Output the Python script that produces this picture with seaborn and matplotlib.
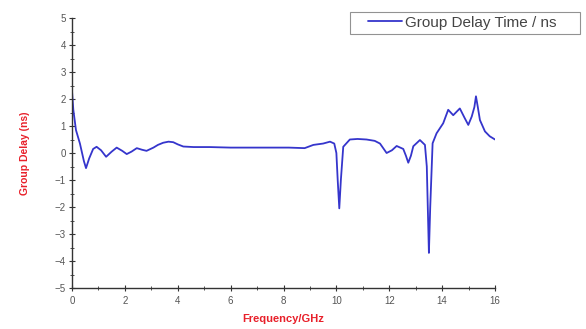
import matplotlib
matplotlib.use("Agg")
import matplotlib.pyplot as plt
import seaborn as sns
import pandas as pd
from matplotlib.ticker import MultipleLocator

freq = [0.0, 0.05, 0.15, 0.3, 0.45, 0.53, 0.65, 0.8, 0.93, 1.1, 1.29, 1.5, 1.69, 1.9, 2.07,
        2.25, 2.45, 2.65, 2.82, 3.08, 3.25, 3.45, 3.65, 3.83, 4.0, 4.21, 4.6, 5.2, 6.0, 6.8,
        7.5, 8.2, 8.8, 9.13, 9.5, 9.76, 9.92, 10.0, 10.05, 10.11, 10.17, 10.26, 10.51, 10.8,
        11.14, 11.45, 11.65, 11.9, 12.1, 12.28, 12.53, 12.63, 12.72, 12.82, 12.91, 13.16,
        13.35, 13.42, 13.47, 13.5, 13.55, 13.64, 13.79, 14.04, 14.23, 14.42, 14.67, 14.85,
        14.99, 15.12, 15.22, 15.28, 15.35, 15.43, 15.62, 15.8, 16.0]
delay = [2.3, 1.6, 0.85, 0.35, -0.3, -0.56, -0.2, 0.15, 0.23, 0.1, -0.14, 0.05, 0.2, 0.08, -0.04,
         0.05, 0.18, 0.12, 0.08, 0.2, 0.3, 0.38, 0.42, 0.4, 0.32, 0.24, 0.22, 0.22, 0.2, 0.2,
         0.2, 0.2, 0.18, 0.3, 0.35, 0.42, 0.35, 0.0, -1.0, -2.05, -1.0, 0.23, 0.5, 0.52,
         0.5, 0.45, 0.35, 0.0, 0.1, 0.26, 0.15, -0.1, -0.36, -0.1, 0.25, 0.48,
         0.3, -0.5, -2.5, -3.7, -2.0, 0.36, 0.73, 1.1, 1.6, 1.4, 1.65, 1.3,
         1.04, 1.35, 1.7, 2.1, 1.7, 1.22, 0.8, 0.62, 0.5]

df = pd.DataFrame({"Frequency": freq, "Delay": delay})

sns.set_style("white")
plt.rcParams["font.family"] = ["Liberation Sans", "DejaVu Sans"]

fig = plt.figure(figsize=(5.86, 3.29), dpi=100)
ax = fig.add_axes([72/586, 1-288/329, 423/586, 270/329])

sns.lineplot(data=df, x="Frequency", y="Delay", ax=ax, color="#3535cc", linewidth=1.3,
             label="Group Delay Time / ns", legend=False)

ax.set_xlim(0, 16)
ax.set_ylim(-5, 5)
ax.xaxis.set_major_locator(MultipleLocator(2))
ax.xaxis.set_minor_locator(MultipleLocator(1))
ax.yaxis.set_major_locator(MultipleLocator(1))
ax.yaxis.set_minor_locator(MultipleLocator(0.5))
for s in ["top", "right"]:
    ax.spines[s].set_visible(False)
for s in ["left", "bottom"]:
    ax.spines[s].set_color("#333333")
    ax.spines[s].set_linewidth(1.0)
ax.tick_params(which="both", bottom=True, left=True, top=False, right=False)
ax.tick_params(which="major", direction="inout", length=5, width=0.8, color="#333333",
               labelsize=7, labelcolor="#555555")
ax.tick_params(which="minor", direction="inout", length=3, width=0.6, color="#333333")
ax.tick_params(axis="x", pad=3)
ax.tick_params(axis="y", pad=2)

ax.set_xlabel("Frequency/GHz", color="#e8202a", fontsize=8, fontweight="bold", labelpad=6)
ax.set_ylabel("Group Delay (ns)", color="#e8202a", fontsize=7.5, fontweight="bold", labelpad=18)

handles, labels = ax.get_legend_handles_labels()
leg = fig.legend(handles, labels, loc="upper left",
                 bbox_to_anchor=(350/586, 1-33/329, 230/586, 21/329), mode="expand",
                 fontsize=11, frameon=True, fancybox=False, handlelength=3.16,
                 handletextpad=0.2, borderpad=0.25, borderaxespad=0, edgecolor="#777777")
leg.get_frame().set_linewidth(0.8)
for t in leg.get_texts():
    t.set_color("#444444")
# keep the legend sample line in the right part of the handle area (left padding)
legline = leg.get_lines()[0]
yv = legline.get_ydata()
legline.set_data([10.4, 34.8], [yv[0], yv[0]])

fig.savefig("out.png", dpi=100, facecolor="white")
